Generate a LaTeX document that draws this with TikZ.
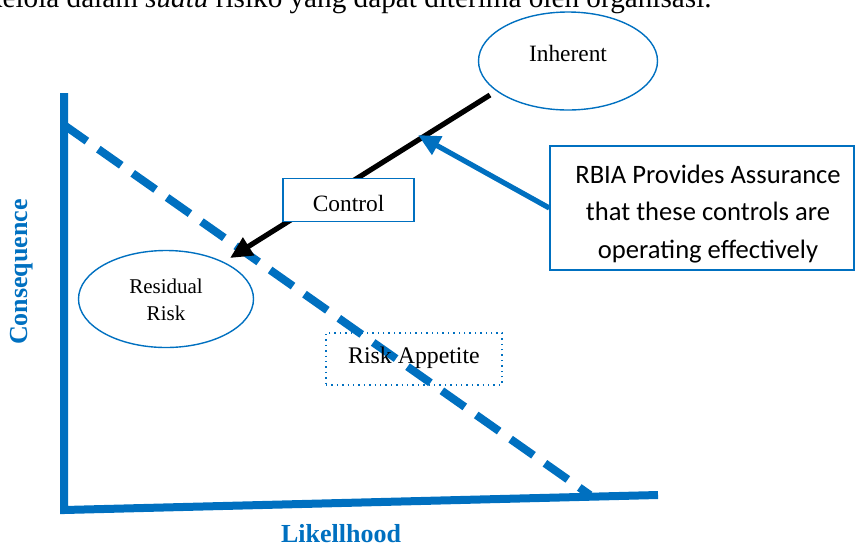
\documentclass[tikz,border=0pt]{standalone}
\usepackage{fontspec}
\setmainfont{Liberation Serif}
\newfontfamily\calibri{Carlito}
\usetikzlibrary{arrows.meta,shapes.geometric}
\definecolor{wblue}{RGB}{0,112,192}
\begin{document}
\begin{tikzpicture}[x=0.5pt,y=-0.5pt,
  axisline/.style={wblue,line width=4pt},
  riskline/.style={wblue,line width=4pt,dash pattern=on 14pt off 7pt},
  thinblue/.style={draw=wblue,line width=0.7pt},
  ellbox/.style={thinblue,ellipse,inner sep=0pt,align=center},
  rectbox/.style={thinblue,rectangle,inner sep=0pt,align=center},
  axislabel/.style={text=wblue,font=\fontsize{13}{15}\selectfont\bfseries},
  bigarrow/.style={line width=2.6pt,-{Triangle[length=11pt,width=10pt]}}
]
\useasboundingbox (0,0) rectangle (856,547);
% clipped text line at the top
\node[anchor=base east,inner sep=0pt,font=\fontsize{14.6}{17}\selectfont] (toptext) at (712,7)
  {kelola dalam \textit{suatu} risiko yang dapat diterima oleh organisasi.};
% axes
\coordinate (ytop) at (64,93);
\coordinate (origin) at (64,510);
\coordinate (xend) at (658,495);
\draw[axisline] (ytop) -- (origin) -- (xend);
% risk appetite line
\coordinate (rl1) at (64,125);
\coordinate (rl2) at (590,495);
\draw[riskline] (rl1) -- (rl2);
% ellipses
\node[ellbox,minimum width=89.5pt,minimum height=49pt] (inh) at (568,61) {};
\node[font=\fontsize{11.7}{14}\selectfont,inner sep=0pt] (inhtext) at (568,53) {Inherent};
\node[ellbox,minimum width=87.5pt,minimum height=48.5pt] (res) at (166,299) {};
\node[font=\fontsize{10.5}{13.5}\selectfont,inner sep=0pt,align=center] (restext) at (166,300) {Residual\\Risk};
% black arrow
\coordinate (ba1) at (490,95);
\coordinate (ba2) at (230,258);
\draw[bigarrow,black] (ba1) -- (ba2);
% control box
\node[rectbox,fill=white,minimum width=65.5pt,minimum height=21.5pt] (ctrl) at (348.5,200) {};
\node[font=\fontsize{11.7}{14}\selectfont,inner sep=0pt] (ctrltext) at (348.5,203) {Control};
% risk appetite box
\node[rectbox,dotted,minimum width=88pt,minimum height=26pt] (ra) at (414,359) {};
\node[font=\fontsize{11.9}{14}\selectfont,inner sep=0pt] (ratext) at (414,358) {Risk Appetite};
% RBIA box
\node[rectbox,minimum width=152pt,minimum height=62pt] (rbia) at (702,208) {};
\node[font=\calibri\fontsize{13.3}{18.75}\selectfont,inner sep=0pt,align=center] (rbiatext) at (708,214)
  {RBIA Provides Assurance\\that these controls are\\operating effectively};
% blue arrow
\coordinate (bt) at (418,135);
\draw[bigarrow,wblue] (rbia.west) -- (bt);
% axis labels
\node[axislabel,rotate=90] (ylab) at (22,272) {Consequence};
\node[axislabel] (xlab) at (341,534) {Likellhood};
\end{tikzpicture}
\end{document}
